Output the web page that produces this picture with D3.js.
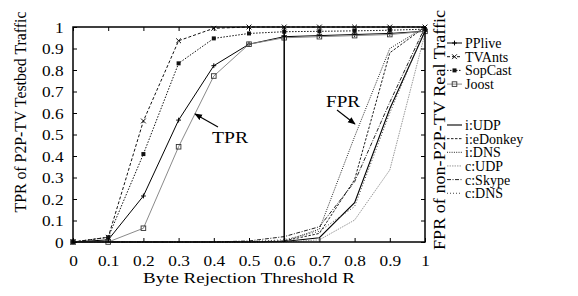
<!DOCTYPE html>
<html><head><meta charset="utf-8">
<script src="https://cdn.jsdelivr.net/npm/d3@7"></script>
<style>body{margin:0;background:#fff}</style>
</head><body><svg id="c" width="578" height="296" font-family="Liberation Serif"></svg>
<script>
const thresholds = [0,0.1,0.2,0.3,0.4,0.5,0.6,0.7,0.8,0.9,1];
const tickLabels = ["0","0.1","0.2","0.3","0.4","0.5","0.6","0.7","0.8","0.9","1"];
// TPR series (testbed)
const ppliveTPR  = [0,0.01,0.214,0.567,0.82,0.92,0.955,0.96,0.965,0.97,0.98];
const tvantsTPR  = [0,0.022,0.563,0.936,0.994,1,1,1,1,1,1];
const sopcastTPR = [0,0.022,0.409,0.831,0.947,0.97,0.978,0.98,0.982,0.985,0.99];
const joostTPR   = [0,0,0.064,0.443,0.772,0.92,0.95,0.955,0.96,0.965,0.98];
// FPR series (real traffic)
const iUDP      = [0,0,0,0,0,0,0.002,0.02,0.183,0.62,0.98];
const iEDonkey  = [0,0,0,0,0,0,0.005,0.04,0.29,0.88,1];
const iDNS      = [0,0,0,0,0,0,0.003,0.06,0.49,0.9,1];
const cUDP      = [0,0,0,0,0,0,0,0.01,0.102,0.335,0.97];
const cSkype    = [0,0,0,0,0,0.005,0.025,0.071,0.28,0.65,1];
const cDNS      = [0,0,0,0,0,0.002,0.01,0.05,0.165,0.6,0.99];
const cutoff = 0.6;

const FONT = "Liberation Serif";
const svg = d3.select("#c");
const x = d3.scaleLinear().domain([0,1]).range([73,425]);
const y = d3.scaleLinear().domain([0,1]).range([242,27]);

const tprSeries = [
  {name:"PPlive", v:ppliveTPR, color:"#000", dash:null, mark:"plus", w:1},
  {name:"TVAnts", v:tvantsTPR, color:"#111", dash:"3,2", mark:"cross", w:1},
  {name:"SopCast", v:sopcastTPR, color:"#111", dash:"1.5,1.5", mark:"fsq", w:1},
  {name:"Joost", v:joostTPR, color:"#8a8a8a", dash:null, mark:"osq", w:1}
];
const fprSeries = [
  {name:"i:UDP", v:iUDP, color:"#000", dash:null, w:1.1},
  {name:"i:eDonkey", v:iEDonkey, color:"#222", dash:"2.5,1.5", w:1},
  {name:"i:DNS", v:iDNS, color:"#222", dash:"1,1.3", w:1},
  {name:"c:UDP", v:cUDP, color:"#999", dash:"1.5,1", w:1},
  {name:"c:Skype", v:cSkype, color:"#222", dash:"4,1.5,1,1.5", w:1},
  {name:"c:DNS", v:cDNS, color:"#444", dash:"1,2", w:1}
];

const line = d3.line().x((d,i)=>x(thresholds[i])).y(d=>y(d));

function marker(g, type, cx, cy, color){
  const s=2.4;
  if(type==="plus"){
    g.append("path").attr("d",`M${cx-s},${cy}H${cx+s}M${cx},${cy-s}V${cy+s}`).attr("stroke",color).attr("stroke-width",1).attr("fill","none");
  } else if(type==="cross"){
    g.append("path").attr("d",`M${cx-s},${cy-s}L${cx+s},${cy+s}M${cx-s},${cy+s}L${cx+s},${cy-s}`).attr("stroke",color).attr("stroke-width",1).attr("fill","none");
  } else if(type==="fsq"){
    g.append("rect").attr("x",cx-2).attr("y",cy-2).attr("width",4).attr("height",4).attr("fill",color);
  } else if(type==="osq"){
    g.append("rect").attr("x",cx-2.3).attr("y",cy-2.3).attr("width",4.6).attr("height",4.6).attr("fill","none").attr("stroke","#333").attr("stroke-width",0.9);
  }
}
function stretch(sel, k){
  sel.each(function(){
    const w = this.getComputedTextLength();
    d3.select(this).attr("textLength", w*k).attr("lengthAdjust","spacingAndGlyphs");
  });
}

// FPR lines
const gF = svg.append("g");
fprSeries.forEach(s=>{
  gF.append("path").attr("d",line(s.v)).attr("fill","none").attr("stroke",s.color).attr("stroke-width",s.w).attr("stroke-dasharray",s.dash);
});
// TPR lines
const gT = svg.append("g");
tprSeries.forEach(s=>{
  gT.append("path").attr("d",line(s.v)).attr("fill","none").attr("stroke",s.color).attr("stroke-width",s.w).attr("stroke-dasharray",s.dash);
  s.v.forEach((d,i)=>marker(gT,s.mark,x(thresholds[i]),y(d),s.mark==="osq"?"#333":s.color));
});

// cutoff vertical line
svg.append("line").attr("x1",x(cutoff)).attr("x2",x(cutoff)).attr("y1",y(0)).attr("y2",y(1)).attr("stroke","#000").attr("stroke-width",1.5);

// axes with inward ticks
const fontSize = 15;
const axB = svg.append("g").attr("transform",`translate(0,${y(0)})`)
  .call(d3.axisBottom(x).tickValues(thresholds).tickSize(-4).tickPadding(0).tickFormat((d,i)=>tickLabels[i]));
axB.selectAll("text").attr("y",24).attr("dy",null).attr("font-family",FONT).style("font-size",fontSize+"px");
const axT = svg.append("g").attr("transform",`translate(0,${y(1)})`)
  .call(d3.axisTop(x).tickValues(thresholds).tickSize(-4).tickFormat(""));
const axL = svg.append("g").attr("transform",`translate(${x(0)},0)`)
  .call(d3.axisLeft(y).tickValues(thresholds).tickSize(-4).tickFormat((d,i)=>tickLabels[i]));
axL.selectAll("text").attr("x",-9.5).attr("dy","0.36em").attr("font-family",FONT).style("font-size",fontSize+"px");
const axR = svg.append("g").attr("transform",`translate(${x(1)},0)`)
  .call(d3.axisRight(y).tickValues(thresholds).tickSize(-4).tickFormat(""));
[axB,axT,axL,axR].forEach(a=>{a.attr("font-family",FONT);a.select(".domain").remove();a.selectAll("line").attr("stroke","#000").attr("stroke-width",1);});
stretch(axB.selectAll("text"),1.15);
stretch(axL.selectAll("text"),1.15);
svg.append("rect").attr("x",x(0)).attr("y",y(1)).attr("width",x(1)-x(0)).attr("height",y(0)-y(1)).attr("fill","none").attr("stroke","#000").attr("stroke-width",1.5);

// axis titles
svg.append("text").attr("x",249).attr("y",282.5).attr("text-anchor","middle").style("font-size","15px")
  .attr("textLength",212).attr("lengthAdjust","spacingAndGlyphs").text("Byte Rejection Threshold R");
svg.append("text").attr("transform","translate(26,112) rotate(-90)").attr("text-anchor","middle").style("font-size","16px")
  .attr("textLength",201).attr("lengthAdjust","spacingAndGlyphs").text("TPR of P2P-TV Testbed Traffic");
svg.append("text").attr("transform","translate(445,130) rotate(-90)").attr("text-anchor","middle").style("font-size","16px")
  .attr("textLength",240).attr("lengthAdjust","spacingAndGlyphs").text("FPR of non-P2P-TV Real Traffic");

// annotations
svg.append("defs").append("marker").attr("id","ah").attr("viewBox","0 0 10 10").attr("refX",9).attr("refY",5)
  .attr("markerWidth",7).attr("markerHeight",7).attr("orient","auto")
  .append("path").attr("d","M0,1L10,5L0,9Z").attr("fill","#000");
svg.append("line").attr("x1",218).attr("y1",127).attr("x2",195).attr("y2",114).attr("stroke","#000").attr("stroke-width",1.1).attr("marker-end","url(#ah)");
svg.append("text").attr("x",212).attr("y",143).style("font-size","16px").attr("textLength",36).attr("lengthAdjust","spacingAndGlyphs").text("TPR");
svg.append("line").attr("x1",337).attr("y1",110).attr("x2",355).attr("y2",124).attr("stroke","#000").attr("stroke-width",1.1).attr("marker-end","url(#ah)");
svg.append("text").attr("x",326).attr("y",107).style("font-size","16px").attr("textLength",34).attr("lengthAdjust","spacingAndGlyphs").text("FPR");

// legend
const lg = svg.append("g");
const lx0 = 447, lx1 = 462, tx = 465;
tprSeries.forEach((s,i)=>{
  const ly = 43 + i*13.7;
  lg.append("line").attr("x1",lx0).attr("x2",lx1).attr("y1",ly).attr("y2",ly).attr("stroke",s.color).attr("stroke-width",1).attr("stroke-dasharray",s.dash);
  marker(lg,s.mark,(lx0+lx1)/2,ly,s.mark==="osq"?"#333":s.color);
  lg.append("text").attr("x",tx).attr("y",ly).attr("dy","0.35em").style("font-size","14px").text(s.name);
});
fprSeries.forEach((s,i)=>{
  const ly = 125 + i*13.65;
  lg.append("line").attr("x1",lx0).attr("x2",lx1).attr("y1",ly).attr("y2",ly).attr("stroke",s.color).attr("stroke-width",s.w).attr("stroke-dasharray",s.dash);
  lg.append("text").attr("x",tx).attr("y",ly).attr("dy","0.35em").style("font-size","14px").text(s.name);
});
</script></body></html>
